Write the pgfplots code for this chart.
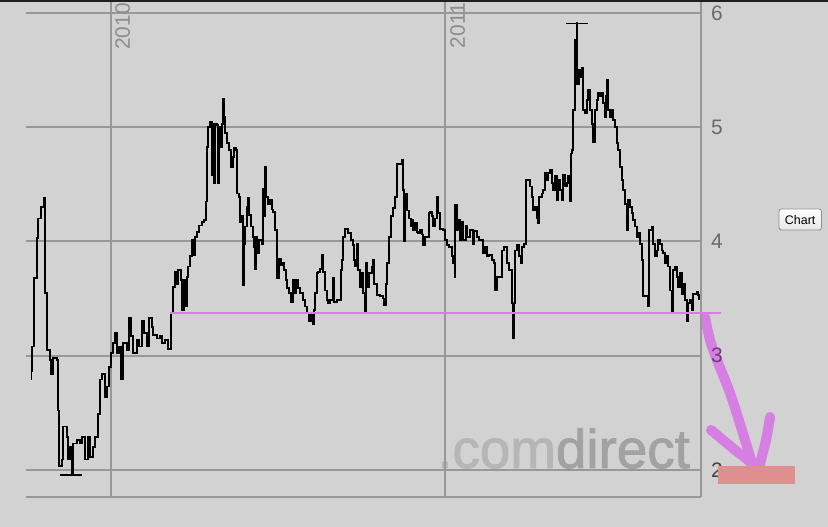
\documentclass[border=0pt]{standalone}
\usepackage{fontspec}
\setmainfont{Liberation Sans}
\newfontfamily\wmfont[FakeBold=1.6]{Liberation Sans}
\usepackage{pgfplots}
\pgfplotsset{compat=1.18}
\usepackage{pgfplotstable}

\definecolor{bg}{HTML}{D2D2D2}
\definecolor{gridc}{HTML}{989898}
\definecolor{lvl}{HTML}{D47FE0}
\definecolor{arr}{HTML}{D57FE2}
\definecolor{salmon}{HTML}{E08F8F}
\definecolor{wmA}{HTML}{B6B6B6}
\definecolor{wmB}{HTML}{A2A2A2}
\definecolor{labc}{HTML}{6A6A6A}
\definecolor{labtwo}{HTML}{444444}
\definecolor{labthree}{HTML}{6E3C7C}
\definecolor{yearc}{HTML}{8C8C8C}
\definecolor{btnb}{HTML}{8E8E8E}
\definecolor{btnf}{HTML}{E6E6EA}

\pgfplotstableread{
x p
31.0 2.79
31.5 2.86
32.3 3.08
34.3 3.68
36.7 4.03
38.3 4.20
41.0 4.30
44.3 4.38
45.0 3.55
46.7 3.05
50.0 2.96
51.0 2.84
53.3 2.98
56.7 2.96
57.7 2.52
59.0 2.03
61.7 2.09
63.3 2.38
66.7 2.29
68.3 2.09
70.0 2.20
71.7 1.96
73.3 2.23
76.7 2.26
80.0 2.23
81.7 2.29
85.0 2.09
87.7 2.29
90.0 2.11
93.3 2.20
95.0 2.29
97.7 2.49
100.0 2.79
102.3 2.84
105.0 2.64
106.7 2.73
109.0 2.90
111.0 3.02
113.3 3.11
115.0 3.20
116.7 3.02
119.0 3.08
121.0 2.79
123.3 3.11
126.7 3.05
129.0 3.33
131.0 3.17
133.3 3.02
136.7 3.14
139.0 3.08
141.7 3.30
144.3 3.20
146.7 3.08
149.0 3.33
151.7 3.25
153.3 3.18
156.7 3.15
160.0 3.17
162.3 3.11
165.0 3.14
168.3 3.06
170.7 3.37
172.7 3.60
175.0 3.73
176.7 3.63
178.3 3.75
180.7 3.66
181.7 3.40
184.0 3.66
186.0 3.43
186.7 3.69
188.3 3.78
190.0 3.87
191.7 4.01
193.3 3.88
195.0 4.04
197.3 4.08
199.3 4.14
201.7 4.17
204.0 4.19
206.0 4.35
206.7 4.83
208.3 5.00
210.0 5.05
211.7 4.58
212.7 5.03
214.0 4.51
215.0 5.03
216.7 5.02
218.3 4.51
219.3 5.00
221.0 4.83
221.7 5.03
222.7 5.25
224.0 5.09
225.3 4.95
227.3 4.86
229.3 4.80
231.0 4.65
232.7 4.74
234.0 4.82
236.0 4.80
237.3 4.42
239.3 4.39
240.0 4.17
241.7 4.22
242.7 3.62
244.0 3.98
245.3 4.13
246.7 4.30
248.3 4.38
249.3 4.23
250.7 4.13
252.7 4.04
254.0 3.95
255.0 3.76
256.0 4.04
257.3 3.90
259.3 4.01
261.7 3.98
262.7 4.46
264.0 4.22
265.3 4.65
266.0 4.39
268.3 4.33
270.0 4.36
271.7 4.28
273.3 4.26
275.0 4.10
276.7 3.95
277.3 3.68
278.7 3.85
280.7 3.79
282.7 3.81
284.0 3.75
286.0 3.66
287.3 3.59
289.3 3.55
290.7 3.47
292.7 3.66
294.3 3.55
296.0 3.66
298.3 3.59
300.0 3.55
302.7 3.49
305.0 3.43
307.3 3.37
309.3 3.30
310.7 3.37
312.7 3.28
314.0 3.40
315.0 3.55
316.7 3.72
318.3 3.73
320.0 3.76
321.7 3.88
323.3 3.73
325.0 3.57
326.7 3.49
328.3 3.46
330.0 3.49
332.7 3.68
334.0 3.47
336.7 3.49
339.3 3.49
340.7 3.75
342.3 3.84
343.3 4.04
345.0 4.11
348.3 4.07
350.7 4.01
352.7 3.97
354.0 3.84
355.3 3.78
356.7 3.98
358.3 3.75
360.0 3.60
361.7 3.72
363.3 3.55
364.7 3.38
366.0 3.81
367.3 3.60
369.3 3.72
371.7 3.78
372.7 3.84
374.3 3.63
376.7 3.53
380.0 3.52
382.7 3.50
384.3 3.44
386.0 3.63
387.3 3.81
389.3 4.04
390.7 4.22
392.7 4.29
395.0 4.39
396.7 4.68
399.3 4.68
401.7 4.71
403.3 4.45
404.3 4.00
405.3 4.42
407.3 4.27
409.3 4.20
410.7 4.13
412.0 4.19
413.3 4.10
415.0 4.16
416.7 4.08
418.3 4.07
420.0 4.10
421.7 4.06
423.3 3.97
425.0 4.04
427.3 4.04
428.7 4.25
430.0 4.26
431.7 4.22
433.3 4.13
435.3 4.20
436.7 4.39
438.3 4.25
440.0 4.11
442.7 4.10
445.0 4.01
447.3 3.97
449.3 3.95
451.7 3.87
453.3 3.81
455.0 3.69
455.3 4.32
456.7 4.10
458.3 4.19
460.0 4.01
462.0 4.17
463.3 4.01
466.0 4.14
467.3 4.04
470.0 4.10
472.7 3.98
474.0 4.09
476.7 4.04
479.3 4.01
481.7 4.01
483.3 3.90
485.0 3.95
486.7 3.87
489.3 3.88
491.7 3.84
494.0 3.81
495.0 3.57
496.7 3.69
501.7 3.92
504.0 3.95
506.7 3.81
509.3 3.75
511.7 3.46
512.7 3.15
514.0 3.46
515.0 3.92
516.7 3.97
519.3 3.87
520.7 3.81
521.7 3.95
524.0 3.98
526.0 4.54
528.3 4.54
530.0 4.48
531.7 4.39
533.3 4.27
535.0 4.30
536.7 4.20
538.3 4.16
539.3 4.39
541.7 4.42
543.3 4.45
545.0 4.60
546.7 4.54
548.3 4.60
550.0 4.63
551.7 4.51
553.3 4.45
555.0 4.57
556.7 4.36
558.3 4.54
560.0 4.45
561.7 4.36
563.3 4.58
565.0 4.48
566.7 4.51
568.3 4.57
570.0 4.35
570.7 4.77
571.7 4.80
572.7 5.15
574.0 5.15
575.0 5.76
576.7 5.91
577.3 5.38
578.7 5.50
580.0 5.44
582.0 5.52
583.3 5.15
585.0 5.12
586.7 5.24
588.3 5.33
590.0 5.15
591.7 5.03
593.3 4.87
595.0 5.15
596.7 5.24
598.3 5.30
600.0 5.27
601.7 5.30
603.3 5.21
605.0 5.09
606.0 5.27
606.7 5.41
608.3 5.15
610.0 5.09
611.7 5.15
613.3 5.06
615.0 5.00
616.7 4.86
618.3 4.80
620.0 4.65
621.7 4.54
623.3 4.45
625.0 4.33
626.7 4.10
628.3 4.36
630.0 4.30
631.7 4.25
633.3 4.19
635.0 4.13
636.7 4.04
638.3 4.07
640.0 3.98
641.7 3.84
643.3 3.52
646.7 3.52
648.3 3.43
649.3 4.10
651.7 4.13
653.3 3.98
655.0 3.87
656.7 3.92
658.3 4.01
660.0 3.98
661.7 3.92
663.3 3.90
665.0 3.81
666.7 3.87
668.3 3.78
670.0 3.57
671.7 3.37
673.3 3.75
675.0 3.78
676.7 3.69
678.3 3.60
680.0 3.72
681.7 3.54
683.3 3.63
685.0 3.49
686.7 3.30
688.3 3.46
690.0 3.49
691.7 3.40
693.3 3.54
695.0 3.54
696.7 3.56
698.3 3.53
699.3 3.49
}\price

\begin{document}
\begin{tikzpicture}
\useasboundingbox (0,0) rectangle (828bp,527bp);
\fill[bg] (0,0) rectangle (828bp,527bp);
\fill[black!88] (0,524.5bp) rectangle (828bp,527bp);
% watermark
\node[anchor=base west, inner sep=0pt, font=\wmfont\fontsize{55}{55}\selectfont] at (437bp,59bp) {\textcolor{wmA}{.com}\textcolor{wmB}{direct}};
% hand-drawn arrow
\draw[arr, line width=10bp, line cap=round, line join=round] plot[smooth, tension=0.6] coordinates {(705bp,210bp) (710bp,187bp) (717bp,167bp) (730bp,134bp) (741bp,100bp) (751bp,67bp) (756bp,49bp)};
\draw[arr, line width=10bp, line cap=round, line join=round] plot[smooth, tension=0.6] coordinates {(711bp,97bp) (735bp,77bp) (751bp,64bp) (758bp,50bp)};
\draw[arr, line width=10bp, line cap=round, line join=round] plot[smooth, tension=0.6] coordinates {(770bp,110bp) (766bp,87bp) (761bp,67bp) (758bp,50bp)};

\begin{axis}[
  at={(26bp,30bp)}, anchor=south west,
  scale only axis, width=675bp, height=495bp,
  xmin=26, xmax=701, ymin=1.7618, ymax=6.0963,
  axis x line*=bottom, axis y line*=right,
  axis line style={gridc, line width=2bp},
  xtick={111,445}, xticklabels={},
  ytick={2,3,4,5,6},
  yticklabels={{\textcolor{labtwo}{2}},{\textcolor{labthree}{3}},4,5,6},
  major tick length=0pt,
  grid=major, grid style={gridc, line width=2bp},
  yticklabel style={font=\fontsize{21}{21}\selectfont, text=labc, anchor=west, inner sep=0pt, xshift=10bp},
  clip=false,
  /pgf/number format/assume math mode=true,
]
\addplot[black, line width=1.8bp, const plot, line join=miter, mark=none] table[x=x, y=p] {\price};
\addplot[black, line width=1.5bp, mark=none] coordinates {(60,1.955) (82,1.955)};
\addplot[black, line width=1.5bp, mark=none] coordinates {(566,5.91) (588,5.91)};
\addplot[lvl, line width=2bp, mark=none] coordinates {(170,3.376) (721,3.376)};
\end{axis}

\node[rotate=90, anchor=north east, inner sep=0pt, font=\fontsize{21}{21}\selectfont, text=yearc] at (115bp,524bp) {2010};
\node[rotate=90, anchor=north east, inner sep=0pt, font=\fontsize{21}{21}\selectfont, text=yearc] at (450bp,524bp) {2011};

\fill[salmon] (718bp,43bp) rectangle (795bp,61bp);

\draw[btnb, line width=0.8bp, rounded corners=2.5bp, top color=white, bottom color=btnf] (779bp,297bp) rectangle (821.5bp,318bp);
\node[inner sep=0pt, font=\fontsize{12.5}{12.5}\selectfont, text=black] at (800.2bp,307.3bp) {Chart};
\end{tikzpicture}
\end{document}
